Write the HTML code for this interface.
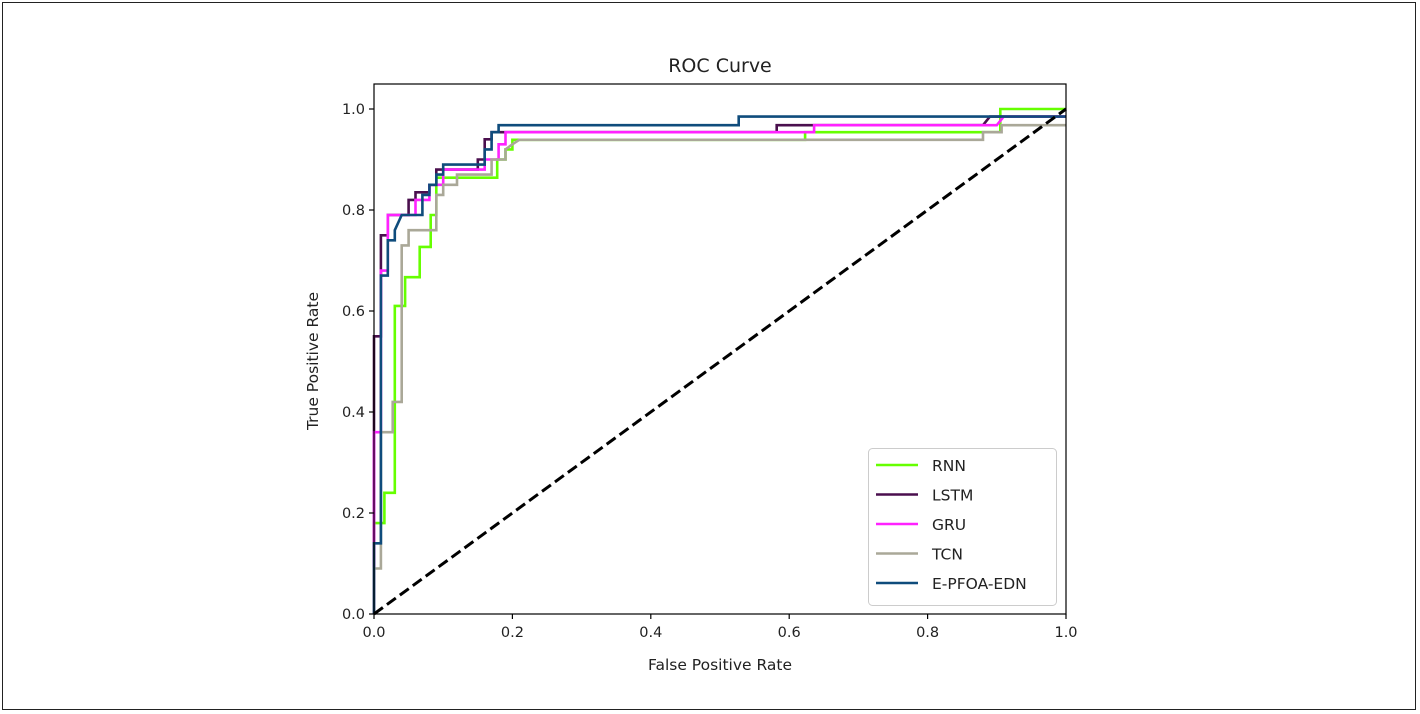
<!DOCTYPE html>
<html><head><meta charset="utf-8">
<style>
html,body{margin:0;padding:0;background:#fff;}
body{width:1420px;height:714px;overflow:hidden;font-family:"DejaVu Sans","Liberation Sans",sans-serif;}
#frame{position:absolute;left:2px;top:2px;width:1414px;height:708px;border:1px solid #222;box-sizing:border-box;}
</style></head>
<body>
<div id="frame"></div>
<svg id="chart" width="1420" height="714" style="position:absolute;left:0;top:0;font-family:'DejaVu Sans','Liberation Sans',sans-serif"></svg>
<script>
const seriesNames = ["RNN","LSTM","GRU","TCN","E-PFOA-EDN"];
const seriesColors = ["#66ff00","#4a0f4e","#ff22ff","#aaa898","#0f4c7c"];
const rnnFpr = [0,0,0.015,0.015,0.03,0.03,0.045,0.045,0.066,0.066,0.082,0.082,0.09,0.09,0.139,0.139,0.178,0.178,0.19,0.19,0.2,0.2,0.623,0.623,0.905,0.905,1];
const rnnTpr = [0,0.18,0.18,0.24,0.24,0.61,0.61,0.667,0.667,0.727,0.727,0.79,0.79,0.864,0.864,0.864,0.864,0.9,0.9,0.92,0.92,0.939,0.939,0.954,0.954,1.0,1.0];
const lstmFpr = [0,0,0.01,0.01,0.02,0.02,0.05,0.05,0.06,0.06,0.08,0.08,0.09,0.09,0.15,0.15,0.16,0.16,0.17,0.17,0.582,0.582,0.88,0.89,1];
const lstmTpr = [0,0.55,0.55,0.75,0.75,0.79,0.79,0.82,0.82,0.835,0.835,0.85,0.85,0.88,0.88,0.9,0.9,0.94,0.94,0.954,0.954,0.968,0.968,0.985,0.985];
const gruFpr = [0,0,0.01,0.01,0.02,0.02,0.06,0.06,0.08,0.08,0.1,0.1,0.16,0.16,0.18,0.18,0.19,0.19,0.636,0.636,0.9,0.91,1];
const gruTpr = [0,0.36,0.36,0.68,0.68,0.79,0.79,0.82,0.82,0.85,0.85,0.88,0.88,0.9,0.9,0.93,0.93,0.954,0.954,0.968,0.968,0.985,0.985];
const tcnFpr = [0,0,0.01,0.01,0.027,0.027,0.04,0.04,0.05,0.05,0.09,0.09,0.1,0.1,0.12,0.12,0.17,0.17,0.19,0.19,0.2,0.21,0.88,0.88,0.907,0.907,1];
const tcnTpr = [0,0.09,0.09,0.36,0.36,0.42,0.42,0.73,0.73,0.76,0.76,0.83,0.83,0.85,0.85,0.87,0.87,0.9,0.9,0.92,0.93,0.939,0.939,0.954,0.954,0.968,0.968];
const ednFpr = [0,0,0.01,0.01,0.02,0.02,0.03,0.03,0.04,0.07,0.07,0.08,0.08,0.09,0.09,0.1,0.1,0.16,0.16,0.17,0.17,0.18,0.18,0.527,0.527,1];
const ednTpr = [0,0.14,0.14,0.67,0.67,0.74,0.74,0.76,0.79,0.79,0.83,0.83,0.85,0.85,0.87,0.87,0.89,0.89,0.92,0.92,0.954,0.954,0.968,0.968,0.985,0.985];
const allFpr = [rnnFpr,lstmFpr,gruFpr,tcnFpr,ednFpr];
const allTpr = [rnnTpr,lstmTpr,gruTpr,tcnTpr,ednTpr];
const xTicks = [0,0.2,0.4,0.6,0.8,1.0];
const yTicks = [0,0.2,0.4,0.6,0.8,1.0];
const xTickLabels = ["0.0","0.2","0.4","0.6","0.8","1.0"];
const yTickLabels = ["0.0","0.2","0.4","0.6","0.8","1.0"];

const NS="http://www.w3.org/2000/svg";
const svg=document.getElementById('chart');
const L=374,R=1066,T=84,B=614;
const X=v=>L+v*(R-L);
const Y=v=>B-v*505;
function mk(tag,attrs,parent){const e=document.createElementNS(NS,tag);for(const k in attrs)e.setAttribute(k,attrs[k]);(parent||svg).appendChild(e);return e;}

const t=mk('text',{x:(L+R)/2,y:72,'text-anchor':'middle','font-size':19,fill:'#222'});t.textContent='ROC Curve';



allFpr.forEach((fx,i)=>{
  const pts=fx.map((v,j)=>X(v).toFixed(1)+','+Y(allTpr[i][j]).toFixed(1)).join(' ');
  const p=mk('polyline',{points:pts,fill:'none',stroke:seriesColors[i],'stroke-width':2.6,'stroke-linejoin':'miter'});
  
  
});
const d=mk('line',{x1:X(0),y1:Y(0),x2:X(1),y2:Y(1),stroke:'#000','stroke-width':3,'stroke-dasharray':'11,5'});



const box=mk('rect',{x:L,y:T,width:R-L,height:B-T,fill:'none',stroke:'#000','stroke-width':1.2});



xTicks.forEach((v,i)=>{
  mk('line',{x1:X(v),x2:X(v),y1:B,y2:B+5,stroke:'#000','stroke-width':1.2});
  const tx=mk('text',{x:X(v),y:B+23,'text-anchor':'middle','font-size':14.5,fill:'#222'});tx.textContent=xTickLabels[i];
  
  
});
yTicks.forEach((v,i)=>{
  mk('line',{x1:L-5,x2:L,y1:Y(v),y2:Y(v),stroke:'#000','stroke-width':1.2});
  const tx=mk('text',{x:L-9,y:Y(v)+5,'text-anchor':'end','font-size':14.5,fill:'#222'});tx.textContent=yTickLabels[i];
  
  
});
const xl=mk('text',{x:(L+R)/2,y:670,'text-anchor':'middle','font-size':15.5,fill:'#222'});xl.textContent='False Positive Rate';


const yl=mk('text',{x:318,y:(T+B)/2+12,'text-anchor':'middle','font-size':15.5,fill:'#222',transform:'rotate(-90 318 '+((T+B)/2+12)+')'});yl.textContent='True Positive Rate';



const lg=mk('g',{});


mk('rect',{x:868.5,y:448.5,width:188,height:157,rx:4,fill:'#fff',stroke:'#ccc','stroke-width':1},lg);
seriesNames.forEach((n,i)=>{
  const yy=465+i*29.5;
  const g=mk('g',{},lg);
  
  
  mk('line',{x1:876,x2:918,y1:yy,y2:yy,stroke:seriesColors[i],'stroke-width':2.6},g);
  const tx=mk('text',{x:932,y:yy+6,'font-size':15.5,fill:'#222'},g);tx.textContent=n;
});
</script>
</body></html>
